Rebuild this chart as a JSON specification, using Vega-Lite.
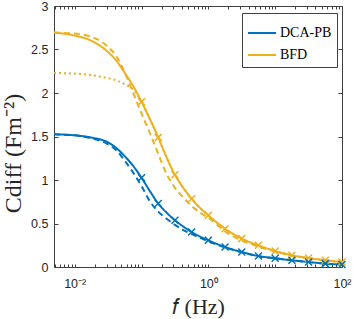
{
  "$schema": "https://vega.github.io/schema/vega-lite/v6.json",
  "width": 288,
  "height": 261,
  "autosize": {"type": "none"},
  "padding": {"left": 54, "top": 6, "right": 11, "bottom": 52},
  "background": "white",
  "config": {
    "view": {"stroke": "#404040", "strokeWidth": 1},
    "axis": {
      "grid": false,
      "domain": false,
      "tickColor": "#404040",
      "tickWidth": 1,
      "labelColor": "#262626",
      "labelFont": "Liberation Sans",
      "labelFontSize": 12.5,
      "titleFont": "Liberation Serif",
      "titleFontSize": 22,
      "titleFontWeight": "normal",
      "titleColor": "#262626"
    },
    "legend": {
      "orient": "none",
      "legendX": 188,
      "legendY": 7,
      "title": null,
      "symbolType": "stroke",
      "symbolSize": 784,
      "symbolStrokeWidth": 2,
      "labelFont": "Liberation Serif",
      "labelFontSize": 14,
      "labelColor": "#000000",
      "labelOffset": 3,
      "padding": 5,
      "rowPadding": -16,
      "strokeColor": "#404040",
      "fillColor": "white",
      "cornerRadius": 0
    }
  },
  "datasets": {
    "lines": [
      {"m": "BFD", "v": "dashed", "f": 0.0049, "c": 2.694},
      {"m": "BFD", "v": "dashed", "f": 0.01, "c": 2.683},
      {"m": "BFD", "v": "dashed", "f": 0.01778, "c": 2.645},
      {"m": "BFD", "v": "dashed", "f": 0.03162, "c": 2.53},
      {"m": "BFD", "v": "dashed", "f": 0.04217, "c": 2.42},
      {"m": "BFD", "v": "dashed", "f": 0.05623, "c": 2.235},
      {"m": "BFD", "v": "dashed", "f": 0.07499, "c": 2.0},
      {"m": "BFD", "v": "dashed", "f": 0.1, "c": 1.765},
      {"m": "BFD", "v": "dashed", "f": 0.1334, "c": 1.54},
      {"m": "BFD", "v": "dashed", "f": 0.1778, "c": 1.3},
      {"m": "BFD", "v": "dashed", "f": 0.2371, "c": 1.07},
      {"m": "BFD", "v": "dashed", "f": 0.3162, "c": 0.91},
      {"m": "BFD", "v": "dashed", "f": 0.4217, "c": 0.8},
      {"m": "BFD", "v": "dashed", "f": 0.5623, "c": 0.7},
      {"m": "BFD", "v": "dashed", "f": 0.7499, "c": 0.625},
      {"m": "BFD", "v": "dashed", "f": 1, "c": 0.565},
      {"m": "BFD", "v": "dashed", "f": 1.778, "c": 0.41},
      {"m": "BFD", "v": "dashed", "f": 3.162, "c": 0.305},
      {"m": "BFD", "v": "dashed", "f": 5.623, "c": 0.235},
      {"m": "BFD", "v": "dashed", "f": 10, "c": 0.178},
      {"m": "BFD", "v": "dashed", "f": 17.78, "c": 0.132},
      {"m": "BFD", "v": "dashed", "f": 31.62, "c": 0.101},
      {"m": "BFD", "v": "dashed", "f": 56.23, "c": 0.076},
      {"m": "BFD", "v": "dashed", "f": 100, "c": 0.057},
      {"m": "BFD", "v": "dotted", "f": 0.0049, "c": 2.23},
      {"m": "BFD", "v": "dotted", "f": 0.01, "c": 2.223},
      {"m": "BFD", "v": "dotted", "f": 0.01778, "c": 2.205},
      {"m": "BFD", "v": "dotted", "f": 0.03162, "c": 2.17},
      {"m": "BFD", "v": "dotted", "f": 0.04217, "c": 2.145},
      {"m": "BFD", "v": "dotted", "f": 0.05623, "c": 2.1},
      {"m": "BFD", "v": "dotted", "f": 0.07499, "c": 2.04},
      {"m": "BFD", "v": "dotted", "f": 0.1, "c": 1.9},
      {"m": "BFD", "v": "dotted", "f": 0.1334, "c": 1.7},
      {"m": "BFD", "v": "dotted", "f": 0.1778, "c": 1.49},
      {"m": "BFD", "v": "dotted", "f": 0.2371, "c": 1.26},
      {"m": "BFD", "v": "dotted", "f": 0.3162, "c": 1.06},
      {"m": "BFD", "v": "dotted", "f": 0.4217, "c": 0.91},
      {"m": "BFD", "v": "dotted", "f": 0.5623, "c": 0.785},
      {"m": "BFD", "v": "dotted", "f": 0.7499, "c": 0.68},
      {"m": "BFD", "v": "dotted", "f": 1, "c": 0.594},
      {"m": "BFD", "v": "dotted", "f": 1.778, "c": 0.44},
      {"m": "BFD", "v": "dotted", "f": 3.162, "c": 0.326},
      {"m": "BFD", "v": "dotted", "f": 5.623, "c": 0.249},
      {"m": "BFD", "v": "dotted", "f": 10, "c": 0.184},
      {"m": "BFD", "v": "dotted", "f": 17.78, "c": 0.134},
      {"m": "BFD", "v": "dotted", "f": 31.62, "c": 0.103},
      {"m": "BFD", "v": "dotted", "f": 56.23, "c": 0.077},
      {"m": "BFD", "v": "dotted", "f": 100, "c": 0.058},
      {"m": "BFD", "v": "solid", "f": 0.0049, "c": 2.694},
      {"m": "BFD", "v": "solid", "f": 0.01, "c": 2.66},
      {"m": "BFD", "v": "solid", "f": 0.01778, "c": 2.6},
      {"m": "BFD", "v": "solid", "f": 0.03162, "c": 2.47},
      {"m": "BFD", "v": "solid", "f": 0.04217, "c": 2.37},
      {"m": "BFD", "v": "solid", "f": 0.05623, "c": 2.23},
      {"m": "BFD", "v": "solid", "f": 0.07499, "c": 2.08},
      {"m": "BFD", "v": "solid", "f": 0.1, "c": 1.9},
      {"m": "BFD", "v": "solid", "f": 0.1334, "c": 1.7},
      {"m": "BFD", "v": "solid", "f": 0.1778, "c": 1.49},
      {"m": "BFD", "v": "solid", "f": 0.2371, "c": 1.26},
      {"m": "BFD", "v": "solid", "f": 0.3162, "c": 1.06},
      {"m": "BFD", "v": "solid", "f": 0.4217, "c": 0.91},
      {"m": "BFD", "v": "solid", "f": 0.5623, "c": 0.785},
      {"m": "BFD", "v": "solid", "f": 0.7499, "c": 0.68},
      {"m": "BFD", "v": "solid", "f": 1, "c": 0.594},
      {"m": "BFD", "v": "solid", "f": 1.778, "c": 0.44},
      {"m": "BFD", "v": "solid", "f": 3.162, "c": 0.326},
      {"m": "BFD", "v": "solid", "f": 5.623, "c": 0.249},
      {"m": "BFD", "v": "solid", "f": 10, "c": 0.184},
      {"m": "BFD", "v": "solid", "f": 17.78, "c": 0.134},
      {"m": "BFD", "v": "solid", "f": 31.62, "c": 0.103},
      {"m": "BFD", "v": "solid", "f": 56.23, "c": 0.077},
      {"m": "BFD", "v": "solid", "f": 100, "c": 0.058},
      {"m": "DCA-PB", "v": "dashed", "f": 0.0049, "c": 1.525},
      {"m": "DCA-PB", "v": "dashed", "f": 0.01, "c": 1.513},
      {"m": "DCA-PB", "v": "dashed", "f": 0.01778, "c": 1.478},
      {"m": "DCA-PB", "v": "dashed", "f": 0.03162, "c": 1.41},
      {"m": "DCA-PB", "v": "dashed", "f": 0.04217, "c": 1.34},
      {"m": "DCA-PB", "v": "dashed", "f": 0.05623, "c": 1.22},
      {"m": "DCA-PB", "v": "dashed", "f": 0.07499, "c": 1.085},
      {"m": "DCA-PB", "v": "dashed", "f": 0.1, "c": 0.93},
      {"m": "DCA-PB", "v": "dashed", "f": 0.1334, "c": 0.755},
      {"m": "DCA-PB", "v": "dashed", "f": 0.1778, "c": 0.636},
      {"m": "DCA-PB", "v": "dashed", "f": 0.2371, "c": 0.555},
      {"m": "DCA-PB", "v": "dashed", "f": 0.3162, "c": 0.485},
      {"m": "DCA-PB", "v": "dashed", "f": 0.4217, "c": 0.425},
      {"m": "DCA-PB", "v": "dashed", "f": 0.5623, "c": 0.378},
      {"m": "DCA-PB", "v": "dashed", "f": 0.7499, "c": 0.335},
      {"m": "DCA-PB", "v": "dashed", "f": 1, "c": 0.295},
      {"m": "DCA-PB", "v": "dashed", "f": 1.778, "c": 0.225},
      {"m": "DCA-PB", "v": "dashed", "f": 3.162, "c": 0.17},
      {"m": "DCA-PB", "v": "dashed", "f": 5.623, "c": 0.125},
      {"m": "DCA-PB", "v": "dashed", "f": 10, "c": 0.1},
      {"m": "DCA-PB", "v": "dashed", "f": 17.78, "c": 0.077},
      {"m": "DCA-PB", "v": "dashed", "f": 31.62, "c": 0.057},
      {"m": "DCA-PB", "v": "dashed", "f": 56.23, "c": 0.039},
      {"m": "DCA-PB", "v": "dashed", "f": 100, "c": 0.028},
      {"m": "DCA-PB", "v": "solid", "f": 0.0049, "c": 1.525},
      {"m": "DCA-PB", "v": "solid", "f": 0.01, "c": 1.514},
      {"m": "DCA-PB", "v": "solid", "f": 0.01778, "c": 1.488},
      {"m": "DCA-PB", "v": "solid", "f": 0.03162, "c": 1.432},
      {"m": "DCA-PB", "v": "solid", "f": 0.04217, "c": 1.366},
      {"m": "DCA-PB", "v": "solid", "f": 0.05623, "c": 1.272},
      {"m": "DCA-PB", "v": "solid", "f": 0.07499, "c": 1.162},
      {"m": "DCA-PB", "v": "solid", "f": 0.1, "c": 1.025},
      {"m": "DCA-PB", "v": "solid", "f": 0.1334, "c": 0.872},
      {"m": "DCA-PB", "v": "solid", "f": 0.1778, "c": 0.729},
      {"m": "DCA-PB", "v": "solid", "f": 0.2371, "c": 0.625},
      {"m": "DCA-PB", "v": "solid", "f": 0.3162, "c": 0.537},
      {"m": "DCA-PB", "v": "solid", "f": 0.4217, "c": 0.465},
      {"m": "DCA-PB", "v": "solid", "f": 0.5623, "c": 0.402},
      {"m": "DCA-PB", "v": "solid", "f": 0.7499, "c": 0.35},
      {"m": "DCA-PB", "v": "solid", "f": 1, "c": 0.307},
      {"m": "DCA-PB", "v": "solid", "f": 1.778, "c": 0.23},
      {"m": "DCA-PB", "v": "solid", "f": 3.162, "c": 0.172},
      {"m": "DCA-PB", "v": "solid", "f": 5.623, "c": 0.126},
      {"m": "DCA-PB", "v": "solid", "f": 10, "c": 0.1},
      {"m": "DCA-PB", "v": "solid", "f": 17.78, "c": 0.077},
      {"m": "DCA-PB", "v": "solid", "f": 31.62, "c": 0.057},
      {"m": "DCA-PB", "v": "solid", "f": 56.23, "c": 0.039},
      {"m": "DCA-PB", "v": "solid", "f": 100, "c": 0.028}
    ],
    "markers": [
      {"m": "BFD", "f": 0.1, "c": 1.9},
      {"m": "BFD", "f": 0.1778, "c": 1.49},
      {"m": "BFD", "f": 0.3162, "c": 1.06},
      {"m": "BFD", "f": 0.5623, "c": 0.785},
      {"m": "BFD", "f": 1, "c": 0.594},
      {"m": "BFD", "f": 1.778, "c": 0.44},
      {"m": "BFD", "f": 3.162, "c": 0.326},
      {"m": "BFD", "f": 5.623, "c": 0.249},
      {"m": "BFD", "f": 10, "c": 0.184},
      {"m": "BFD", "f": 17.78, "c": 0.134},
      {"m": "BFD", "f": 31.62, "c": 0.103},
      {"m": "BFD", "f": 56.23, "c": 0.077},
      {"m": "BFD", "f": 100, "c": 0.058},
      {"m": "DCA-PB", "f": 0.1, "c": 1.025},
      {"m": "DCA-PB", "f": 0.1778, "c": 0.729},
      {"m": "DCA-PB", "f": 0.3162, "c": 0.537},
      {"m": "DCA-PB", "f": 0.5623, "c": 0.402},
      {"m": "DCA-PB", "f": 1, "c": 0.307},
      {"m": "DCA-PB", "f": 1.778, "c": 0.23},
      {"m": "DCA-PB", "f": 3.162, "c": 0.172},
      {"m": "DCA-PB", "f": 5.623, "c": 0.126},
      {"m": "DCA-PB", "f": 10, "c": 0.1},
      {"m": "DCA-PB", "f": 17.78, "c": 0.077},
      {"m": "DCA-PB", "f": 31.62, "c": 0.057},
      {"m": "DCA-PB", "f": 56.23, "c": 0.039},
      {"m": "DCA-PB", "f": 100, "c": 0.028}
    ]
  },
  "layer": [
    {
      "data": {"name": "lines"},
      "mark": {"type": "line", "strokeWidth": 2, "interpolate": "monotone", "clip": true},
      "encoding": {
        "x": {
          "field": "f", "type": "quantitative",
          "scale": {"type": "log", "domain": [0.0049, 100], "nice": false},
          "axis": {
            "orient": "bottom",
            "values": [0.005, 0.006, 0.007, 0.008, 0.009, 0.01, 0.02, 0.03, 0.04, 0.05, 0.06, 0.07, 0.08, 0.09, 0.1, 0.2, 0.3, 0.4, 0.5, 0.6, 0.7, 0.8, 0.9, 1, 2, 3, 4, 5, 6, 7, 8, 9, 10, 20, 30, 40, 50, 60, 70, 80, 90, 100],
            "labelExpr": "datum.value == 0.01 ? '10⁻²' : datum.value == 1 ? '10⁰' : datum.value == 100 ? '10²' : ''",
            "labelOverlap": false,
            "labelFlush": false,
            "labelBaseline": "top",
            "tickSize": -3,
            "labelPadding": 13,
            "title": "𝑓 (Hz)",
            "titleBaseline": "top",
            "titleY": 29
          }
        },
        "y": {
          "field": "c", "type": "quantitative",
          "scale": {"domain": [0, 3], "nice": false},
          "axis": {
            "orient": "left",
            "values": [0, 0.5, 1, 1.5, 2, 2.5, 3],
            "format": "~g",
            "tickSize": -4,
            "labelPadding": 10,
            "title": "Cdiff (Fm⁻²)",
            "titleFontSize": 24,
            "titleX": -29,
            "titleY": 147,
            "titleBaseline": "bottom",
            "titleAngle": -90
          }
        },
        "color": {
          "field": "m", "type": "nominal",
          "scale": {"domain": ["DCA-PB", "BFD"], "range": ["#0072BD", "#EDB120"]},
          "legend": {"orient": "none"}
        },
        "strokeDash": {
          "field": "v", "type": "nominal",
          "scale": {"domain": ["solid", "dashed", "dotted"], "range": [[1, 0], [6, 4], [2, 3]]},
          "legend": null
        }
      }
    },
    {
      "data": {"name": "markers"},
      "mark": {"type": "point", "shape": "M-1,-1L1,1M1,-1L-1,1", "filled": false, "size": 49, "strokeWidth": 1.5, "opacity": 1},
      "encoding": {
        "x": {
          "field": "f", "type": "quantitative",
          "axis": {
            "orient": "top",
            "values": [0.005, 0.006, 0.007, 0.008, 0.009, 0.01, 0.02, 0.03, 0.04, 0.05, 0.06, 0.07, 0.08, 0.09, 0.1, 0.2, 0.3, 0.4, 0.5, 0.6, 0.7, 0.8, 0.9, 1, 2, 3, 4, 5, 6, 7, 8, 9, 10, 20, 30, 40, 50, 60, 70, 80, 90, 100],
            "labels": false,
            "tickSize": -3,
            "title": null
          }
        },
        "y": {
          "field": "c", "type": "quantitative",
          "axis": {
            "orient": "right",
            "values": [0, 0.5, 1, 1.5, 2, 2.5, 3],
            "labels": false,
            "tickSize": -4,
            "title": null
          }
        },
        "color": {"field": "m", "type": "nominal", "legend": null}
      }
    }
  ]
}
